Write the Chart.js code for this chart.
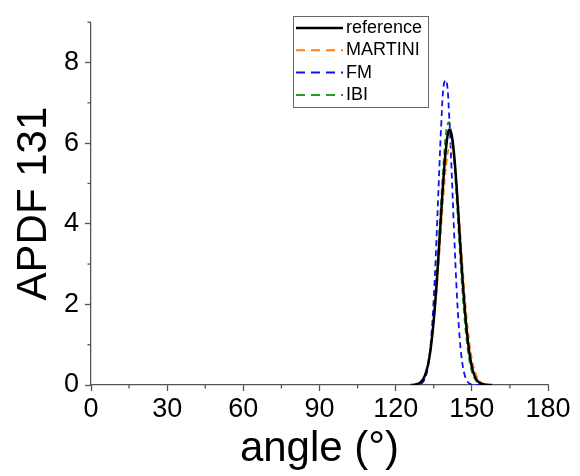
<!DOCTYPE html>
<html>
<head>
<meta charset="utf-8">
<script src="https://cdn.jsdelivr.net/npm/chart.js@4.4.1/dist/chart.umd.min.js"></script>
<style>
  html, body { margin: 0; padding: 0; background: #fff; }
  #wrap { width: 580px; height: 476px; position: relative; }
</style>
</head>
<body>
<div id="wrap"><canvas id="apdf"></canvas></div>
<script>
// ===========================
// DATA
// ===========================
const angles = [126, 127, 128, 129, 130, 131, 132, 133, 134, 135, 136, 137, 138, 139, 140, 141,
                142, 143, 144, 145, 146, 147, 148, 149, 150, 151, 152, 153, 154, 155, 156, 157, 158];

const referenceVals = [0, 0.003, 0.014, 0.034, 0.076, 0.16, 0.32, 0.58, 1.00, 1.60, 2.39, 3.34, 4.34, 5.27, 5.97, 6.33,
                       6.22, 5.73, 4.92, 3.94, 2.95, 2.06, 1.34, 0.81, 0.46, 0.24, 0.12, 0.055, 0.024, 0.01, 0.004, 0, 0];
const martiniVals   = [0.002, 0.007, 0.018, 0.042, 0.089, 0.18, 0.33, 0.59, 0.98, 1.53, 2.24, 3.08, 3.98, 4.83, 5.50, 5.89,
                       5.95, 5.60, 4.98, 4.15, 3.25, 2.40, 1.66, 1.08, 0.66, 0.38, 0.20, 0.10, 0.049, 0.02, 0.008, 0.003, 0];
const fmVals        = [0, 0, 0.002, 0.008, 0.031, 0.093, 0.24, 0.57, 1.17, 2.15, 3.50, 5.06, 6.52, 7.48, 7.56, 6.76,
                       5.37, 3.80, 2.39, 1.34, 0.66, 0.29, 0.11, 0.04, 0.01, 0.003, 0, 0, 0, 0, 0, 0, 0];
const ibiVals       = [0.002, 0.005, 0.014, 0.034, 0.078, 0.17, 0.34, 0.63, 1.09, 1.75, 2.61, 3.62, 4.68, 5.62, 6.35, 6.52,
                       6.20, 5.55, 4.62, 3.58, 2.58, 1.73, 1.08, 0.62, 0.33, 0.17, 0.078, 0.034, 0.014, 0.005, 0, 0, 0];

const seriesNames = ['reference', 'MARTINI', 'FM', 'IBI'];

const xTicks = [0, 30, 60, 90, 120, 150, 180];
const xMinor = [15, 45, 75, 105, 135, 165];
const yTicks = [0, 2, 4, 6, 8];
const yMinor = [1, 3, 5, 7, 9];

// ===========================
// STYLE
// ===========================
const FONT = 'Arial, "Liberation Sans", sans-serif';
const AXIS = '#555';
const colors = ['#000000', '#FF7F0E', '#1010F0', '#22A022'];
const dashes = [[], [6, 4], [6, 4], [6, 4]];
const widths = [2.5, 1.8, 1.8, 1.8];

const toPts = vals => angles.map((a, i) => ({ x: a, y: vals[i] }));
const allVals = [referenceVals, martiniVals, fmVals, ibiVals];

// minor ticks + boxed legend inside the plot
const extras = {
  id: 'extras',
  afterDraw(chart) {
    const ctx = chart.ctx;
    const xs = chart.scales.x, ys = chart.scales.y;
    const area = chart.chartArea;
    ctx.save();
    ctx.strokeStyle = AXIS;
    ctx.lineWidth = 1.3;
    xMinor.forEach(v => {
      const px = xs.getPixelForValue(v);
      ctx.beginPath(); ctx.moveTo(px, area.bottom); ctx.lineTo(px, area.bottom + 3.5); ctx.stroke();
    });
    yMinor.forEach(v => {
      const py = ys.getPixelForValue(v);
      ctx.beginPath(); ctx.moveTo(area.left, py); ctx.lineTo(area.left - 3.5, py); ctx.stroke();
    });

    // legend
    const bx = 293, by = 16, bw = 135, bh = 91;
    ctx.fillStyle = '#fff';
    ctx.fillRect(bx, by, bw, bh);
    ctx.strokeStyle = '#666';
    ctx.lineWidth = 1;
    ctx.strokeRect(bx + 0.5, by + 0.5, bw, bh);
    chart.data.datasets.forEach((ds, i) => {
      const cy = by + 12 + i * 22.3;
      ctx.strokeStyle = ds.borderColor;
      ctx.lineWidth = i === 0 ? 2.5 : 2;
      ctx.setLineDash(i === 0 ? [] : [9, 6]);
      ctx.beginPath(); ctx.moveTo(bx + 3, cy); ctx.lineTo(bx + 50, cy); ctx.stroke();
      ctx.setLineDash([]);
      ctx.fillStyle = '#000';
      ctx.font = '18px ' + FONT;
      ctx.textBaseline = 'middle';
      ctx.fillText(ds.label, bx + 53, cy);
    });
    ctx.restore();
  }
};

new Chart(document.getElementById('apdf'), {
  type: 'line',
  data: {
    datasets: seriesNames.map((name, i) => ({
      label: name,
      data: toPts(allVals[i]),
      borderColor: colors[i],
      borderWidth: widths[i],
      borderDash: dashes[i],
      pointRadius: 0,
      tension: 0.4,
      fill: false,
    }))
  },
  options: {
    responsive: true,
    maintainAspectRatio: false,
    animation: false,
    layout: { padding: { top: 18, right: 32, left: 0, bottom: 0 } },
    plugins: {
      legend: { display: false },
      tooltip: { enabled: false }
    },
    scales: {
      x: {
        type: 'linear', min: 0, max: 180,
        afterBuildTicks: s => { s.ticks = xTicks.map(v => ({ value: v })); },
        afterFit: s => { s.height = 91; },
        ticks: { color: '#000', font: { family: FONT, size: 27 }, padding: 2, maxRotation: 0 },
        grid: { drawOnChartArea: false, drawTicks: true, tickLength: 6, color: AXIS, tickWidth: 1.3 },
        border: { color: AXIS, width: 1.3 },
        title: { display: true, text: 'angle (°)', color: '#000',
                 font: { family: FONT, size: 42, lineHeight: 1 }, padding: { bottom: 6 } }
      },
      y: {
        type: 'linear', min: 0, max: 9,
        afterBuildTicks: s => { s.ticks = yTicks.map(v => ({ value: v })); },
        afterFit: s => { s.width = 91; },
        ticks: { color: '#000', font: { family: FONT, size: 27 }, padding: 6 },
        grid: { drawOnChartArea: false, drawTicks: true, tickLength: 6, color: AXIS, tickWidth: 1.3 },
        border: { color: AXIS, width: 1.3 },
        title: { display: true, text: 'APDF 131', color: '#000',
                 font: { family: FONT, size: 42, lineHeight: 1 }, padding: { top: 13 } }
      }
    }
  },
  plugins: [extras]
});
</script>
</body>
</html>
